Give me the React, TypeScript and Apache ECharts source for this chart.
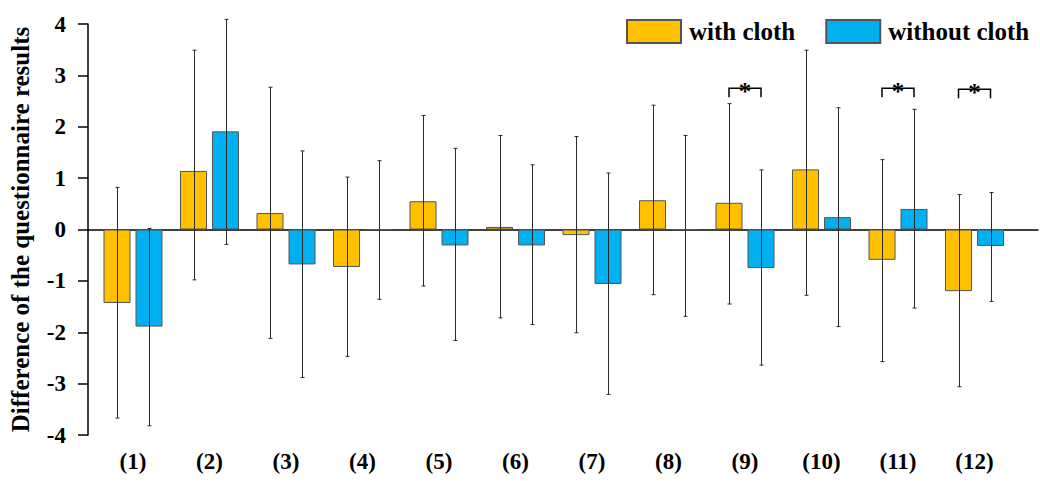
import React, { useEffect, useRef } from "react";
import * as echarts from "echarts";

const categories = ["(1)", "(2)", "(3)", "(4)", "(5)", "(6)", "(7)", "(8)", "(9)", "(10)", "(11)", "(12)"];
const withMean = [-1.43, 1.14, 0.32, -0.73, 0.55, 0.05, -0.11, 0.57, 0.52, 1.17, -0.59, -1.2];
const withHigh = [0.82, 3.49, 2.77, 1.02, 2.22, 1.83, 1.81, 2.42, 2.45, 3.49, 1.36, 0.68];
const withLow = [-3.67, -0.98, -2.12, -2.47, -1.1, -1.72, -2.01, -1.27, -1.45, -1.28, -2.57, -3.06];
const withoutMean = [-1.89, 1.91, -0.68, 0, -0.31, -0.31, -1.06, 0, -0.75, 0.24, 0.4, -0.32];
const withoutHigh = [0.02, 4.09, 1.53, 1.34, 1.58, 1.26, 1.1, 1.83, 1.16, 2.37, 2.34, 0.72];
const withoutLow = [-3.82, -0.29, -2.88, -1.36, -2.16, -1.85, -3.21, -1.69, -2.64, -1.89, -1.53, -1.4];
const sigCategories = ["(9)", "(11)", "(12)"];
const sigLevel = [2.75, 2.75, 2.73];
const yTicks = { min: -4, max: 4, interval: 1 };

const FONT = "'Liberation Serif', 'Times New Roman', serif";
const BAR_W = 27;
const BAR_GAP = 5;
const OFF = (BAR_W + BAR_GAP) / 2;

function errRender(offset: number) {
  return (params: any, api: any) => {
    const idx = api.value(0);
    const pLow = api.coord([idx, api.value(1)]);
    const pHigh = api.coord([idx, api.value(2)]);
    const x = Math.round(pLow[0] + offset) + 0.5;
    const st = { stroke: "#2b2b2b", lineWidth: 1 };
    return {
      type: "group",
      children: [
        { type: "line", shape: { x1: x, y1: pLow[1], x2: x, y2: pHigh[1] }, style: st },
        { type: "line", shape: { x1: x - 2, y1: pLow[1], x2: x + 2, y2: pLow[1] }, style: st },
        { type: "line", shape: { x1: x - 2, y1: pHigh[1], x2: x + 2, y2: pHigh[1] }, style: st },
      ],
    };
  };
}

function sigRender(params: any, api: any) {
  const idx = api.value(0);
  const p = api.coord([idx, api.value(1)]);
  const x1 = p[0] - OFF;
  const x2 = p[0] + OFF;
  const y = p[1];
  return {
    type: "group",
    children: [
      {
        type: "polyline",
        shape: { points: [[x1, y + 9], [x1, y], [x2, y], [x2, y + 9]] },
        style: { stroke: "#000", lineWidth: 1.5, fill: "none" },
      },
      {
        type: "text",
        x: p[0],
        y: y + 3,
        style: {
          text: "*",
          fontFamily: FONT,
          fontWeight: "bold",
          fontSize: 25,
          fill: "#000",
          align: "center",
          verticalAlign: "middle",
        },
      },
    ],
  };
}

export default function App() {
  const ref = useRef<HTMLDivElement>(null);
  useEffect(() => {
    if (!ref.current) return;
    const chart = echarts.init(ref.current, null, { renderer: "svg" });
    const hiddenAxis = {
      axisLine: { show: false },
      axisTick: { show: false },
      axisLabel: { show: false },
      splitLine: { show: false },
    };
    chart.setOption({
      animation: false,
      backgroundColor: "#fff",
      grid: [
        { left: 87, right: 2, top: 24, bottom: 46 },
        { left: 94.75, right: 27.25, top: 24, bottom: 46 },
      ],
      legend: {
        data: ["with cloth", "without cloth"],
        left: 621,
        top: 14,
        itemWidth: 54,
        itemHeight: 23,
        itemGap: 30,
        icon: "rect",
        textStyle: {
          fontFamily: FONT,
          fontWeight: "bold",
          fontSize: 25,
          color: "#000",
          padding: [0, 0, 0, 3],
        },
      },
      xAxis: [
        {
          gridIndex: 0,
          type: "value",
          min: 0,
          max: 1,
          axisLine: { show: true, onZero: true, lineStyle: { color: "#000", width: 1.5 } },
          axisTick: { show: false },
          axisLabel: { show: false },
          splitLine: { show: false },
        },
        {
          gridIndex: 1,
          type: "category",
          data: categories,
          axisLine: { show: false, onZero: false },
          axisTick: { show: false },
          splitLine: { show: false },
          axisLabel: { fontFamily: FONT, fontWeight: "bold", fontSize: 23, color: "#000", margin: 15 },
        },
      ],
      yAxis: [
        {
          gridIndex: 0,
          type: "value",
          min: yTicks.min,
          max: yTicks.max,
          interval: yTicks.interval,
          name: "Difference of the questionnaire results",
          nameLocation: "middle",
          nameRotate: 90,
          nameGap: 55,
          nameTextStyle: { fontFamily: FONT, fontWeight: "bold", fontSize: 25, color: "#000" },
          axisLine: { show: true, lineStyle: { color: "#000", width: 1.5 } },
          axisTick: { show: true, inside: false, length: 10, lineStyle: { color: "#000", width: 1.5 } },
          axisLabel: { fontFamily: FONT, fontWeight: "bold", fontSize: 23, color: "#000", margin: 22 },
          splitLine: { show: false },
        },
        {
          gridIndex: 1,
          type: "value",
          min: yTicks.min,
          max: yTicks.max,
          interval: yTicks.interval,
          ...hiddenAxis,
        },
      ],
      series: [
        {
          name: "with cloth",
          type: "bar",
          xAxisIndex: 1,
          yAxisIndex: 1,
          data: withMean,
          barWidth: BAR_W,
          barGap: (BAR_GAP / BAR_W) * 100 + "%",
          itemStyle: { color: "#FFC000", borderColor: "#555", borderWidth: 1 },
        },
        {
          name: "without cloth",
          type: "bar",
          xAxisIndex: 1,
          yAxisIndex: 1,
          data: withoutMean,
          barWidth: BAR_W,
          itemStyle: { color: "#00B0F0", borderColor: "#555", borderWidth: 1 },
        },
        {
          type: "custom",
          name: "err-with",
          xAxisIndex: 1,
          yAxisIndex: 1,
          data: withMean.map((_, i) => [i, withLow[i], withHigh[i]]),
          renderItem: errRender(-OFF),
          encode: { x: 0, y: [1, 2] },
          z: 3,
          silent: true,
        },
        {
          type: "custom",
          name: "err-without",
          xAxisIndex: 1,
          yAxisIndex: 1,
          data: withoutMean.map((_, i) => [i, withoutLow[i], withoutHigh[i]]),
          renderItem: errRender(OFF),
          encode: { x: 0, y: [1, 2] },
          z: 3,
          silent: true,
        },
        {
          type: "custom",
          name: "sig",
          xAxisIndex: 1,
          yAxisIndex: 1,
          data: sigCategories.map((c, i) => [categories.indexOf(c), sigLevel[i]]),
          renderItem: sigRender,
          encode: { x: 0, y: 1 },
          z: 3,
          silent: true,
        },
      ],
    });
    return () => chart.dispose();
  }, []);
  return (
    <div
      ref={ref}
      style={{ position: "fixed", left: 0, top: 0, width: 1040, height: 481, background: "#fff" }}
    />
  );
}
